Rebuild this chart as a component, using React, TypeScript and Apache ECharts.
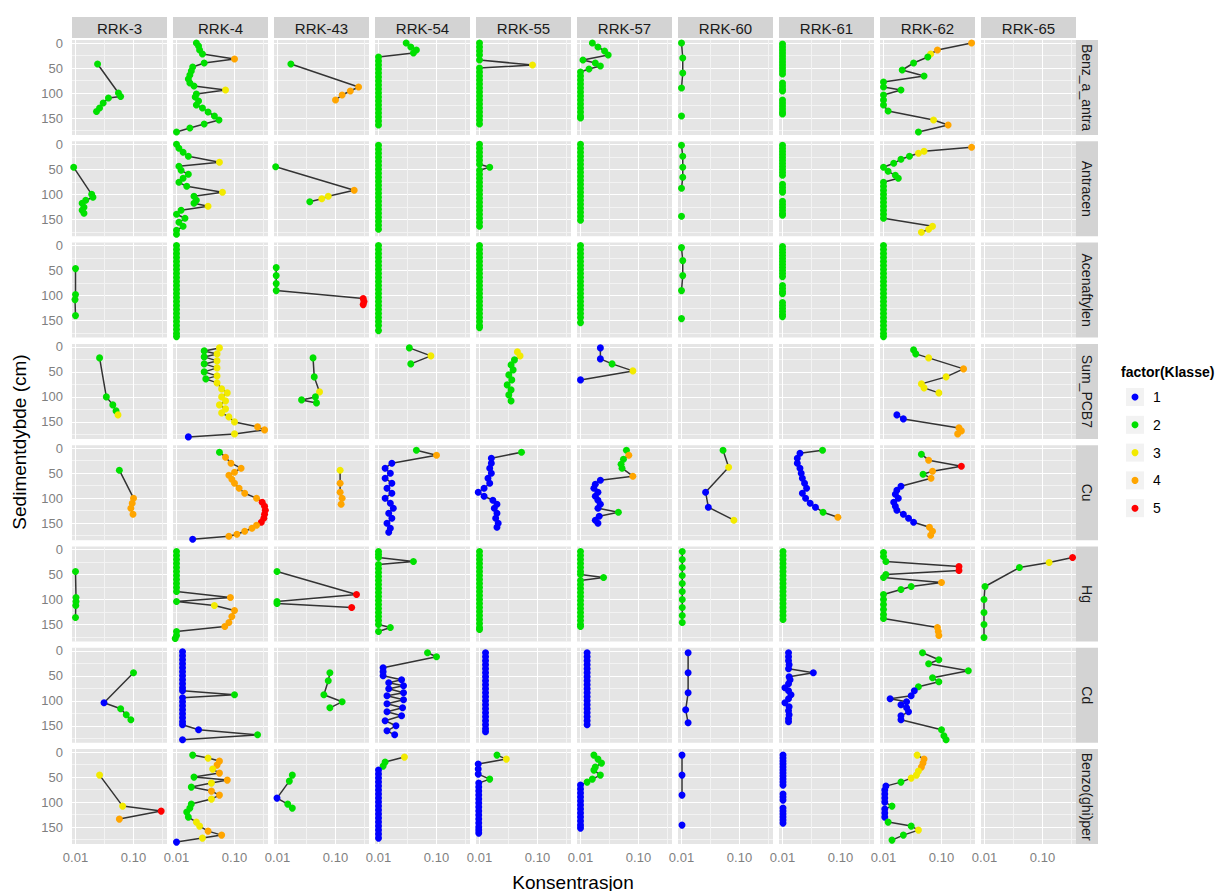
import React, { useEffect, useRef } from 'react';
import * as echarts from 'echarts';

type Pt = [number, number, number] | null; // [depth cm, concentration, class]

const stations = ['RRK-3', 'RRK-4', 'RRK-43', 'RRK-54', 'RRK-55', 'RRK-57', 'RRK-60', 'RRK-61', 'RRK-62', 'RRK-65'];
const variables = ['Benz_a_antracen', 'Antracen', 'Acenaftylen', 'Sum_PCB7', 'Cu', 'Hg', 'Cd', 'Benzo(ghi)perylen'];
const classLabels = ['1', '2', '3', '4', '5'];
const classColors = ['#0000FF', '#00E000', '#F2EA00', '#FFA500', '#FF0000'];
const xLabelValues = [0.01, 0.1];
const xLabelTexts = ['0.01', '0.10'];
const xGridValues = [0.01, 0.0316, 0.1, 0.316];
const yLabelValues = [0, 50, 100, 150];
const yGridValues = [0, 25, 50, 75, 100, 125, 150, 175];
const xTitle = 'Konsentrasjon';
const yTitle = 'Sedimentdybde (cm)';
const legendTitle = 'factor(Klasse)';

// ---- Benz_a_antracen
const baa_3: Pt[] = [[42,0.024,2],[100,0.055,2],[107,0.06,2],[110,0.037,2],[120,0.03,2],[130,0.026,2],[137,0.023,2]];
const baa_4: Pt[] = [[0,0.022,2],[6,0.024,2],[14,0.025,2],[22,0.028,2],[32,0.1,4],[40,0.03,2],[48,0.019,2],[56,0.018,2],[64,0.017,2],[72,0.016,2],[80,0.017,2],[86,0.02,2],[94,0.07,3],[102,0.022,2],[108,0.021,2],[116,0.024,2],[124,0.022,2],[130,0.028,2],[138,0.035,2],[146,0.045,2],[154,0.054,2],[162,0.03,2],[170,0.017,2],[178,0.01,2]];
const baa_43: Pt[] = [[42,0.017,2],[88,0.25,4],[96,0.18,4],[104,0.13,4],[114,0.1,4]];
const baa_54: Pt[] = [[0,0.03,2],[8,0.036,2],[14,0.045,2],[20,0.04,2],[28,0.01,2],[36,0.01,2],[44,0.01,2],[52,0.01,2],[60,0.01,2],[68,0.01,2],[76,0.01,2],[84,0.01,2],[92,0.01,2],[100,0.01,2],[108,0.01,2],[116,0.01,2],[124,0.01,2],[132,0.01,2],[140,0.01,2],[148,0.01,2],[156,0.01,2],[164,0.01,2]];
const baa_55: Pt[] = [[0,0.01,2],[8,0.01,2],[16,0.01,2],[24,0.01,2],[34,0.01,2],[44,0.082,3],[50,0.01,2],[58,0.01,2],[66,0.01,2],[74,0.01,2],[82,0.01,2],[90,0.01,2],[98,0.01,2],[106,0.01,2],[114,0.01,2],[122,0.01,2],[130,0.01,2],[138,0.01,2],[146,0.01,2],[154,0.01,2],[162,0.01,2]];
const baa_57: Pt[] = [[0,0.016,2],[8,0.02,2],[16,0.026,2],[24,0.03,2],[34,0.011,2],[40,0.018,2],[46,0.022,2],[52,0.014,2],[58,0.01,2],[66,0.01,2],[74,0.01,2],[82,0.01,2],[90,0.01,2],[98,0.01,2],[106,0.01,2],[114,0.01,2],[122,0.01,2],[130,0.01,2],[138,0.01,2],[146,0.01,2],[150,0.01,2]];
const baa_60: Pt[] = [[0,0.01,2],[30,0.0105,2],[60,0.0105,2],[90,0.01,2],null,[146,0.01,2]];
const baa_61: Pt[] = [[2,0.01,2],[8,0.01,2],[14,0.01,2],[20,0.01,2],[26,0.01,2],[32,0.01,2],[38,0.01,2],[44,0.01,2],[50,0.01,2],[56,0.01,2],[62,0.01,2],null,[80,0.01,2],[86,0.01,2],[92,0.01,2],[96,0.01,2],null,[114,0.01,2],[120,0.01,2],[126,0.01,2],[132,0.01,2],[138,0.01,2],[142,0.01,2]];
const baa_62: Pt[] = [[0,0.33,4],[14,0.085,4],[22,0.065,3],[28,0.058,2],[40,0.033,2],[54,0.021,2],[66,0.05,2],[78,0.01,2],[88,0.01,2],[94,0.02,2],[104,0.01,2],[114,0.01,2],[124,0.01,2],[136,0.012,2],[154,0.073,3],[164,0.13,4],[178,0.04,2]];

// ---- Antracen
const ant_3: Pt[] = [[46,0.0093,2],[100,0.019,2],[106,0.02,2],[112,0.015,2],[118,0.013,2],[126,0.014,2],[132,0.013,2],[138,0.014,2]];
const ant_4: Pt[] = [[0,0.01,2],[8,0.011,2],[16,0.013,2],[24,0.016,2],[36,0.055,3],[44,0.011,2],[52,0.012,2],[60,0.016,2],[68,0.013,2],[76,0.011,2],[84,0.015,2],[96,0.062,3],[104,0.02,2],[112,0.022,2],[118,0.02,2],[124,0.035,3],[132,0.012,2],[140,0.01,2],[148,0.014,2],[156,0.011,2],[164,0.013,2],[172,0.01,2],[180,0.01,2]];
const ant_43: Pt[] = [[45,0.0093,2],[92,0.21,4],[104,0.075,3],[109,0.058,3],[115,0.036,2]];
const ant_54: Pt[] = [[2,0.01,2],[10,0.01,2],[18,0.01,2],[26,0.01,2],[34,0.01,2],[42,0.01,2],[50,0.01,2],[58,0.01,2],[66,0.01,2],[74,0.01,2],[82,0.01,2],[90,0.01,2],[98,0.01,2],[106,0.01,2],[114,0.01,2],[122,0.01,2],[130,0.01,2],[138,0.01,2],[146,0.01,2],[154,0.01,2],[162,0.01,2],[170,0.01,2]];
const ant_55: Pt[] = [[0,0.01,2],[8,0.01,2],[16,0.01,2],[24,0.01,2],[32,0.01,2],[40,0.01,2],[46,0.015,2],[52,0.01,2],[60,0.01,2],[68,0.01,2],[76,0.01,2],[84,0.01,2],[92,0.01,2],[100,0.01,2],[108,0.01,2],[116,0.01,2],[124,0.01,2],[132,0.01,2],[140,0.01,2],[148,0.01,2],[156,0.01,2],[164,0.01,2]];
const ant_57: Pt[] = [[0,0.01,2],[8,0.01,2],[16,0.01,2],[24,0.01,2],[32,0.01,2],[40,0.01,2],[48,0.01,2],[56,0.01,2],[64,0.01,2],[72,0.01,2],[80,0.01,2],[88,0.01,2],[96,0.01,2],[104,0.01,2],[112,0.01,2],[120,0.01,2],[128,0.01,2],[136,0.01,2],[144,0.01,2],[152,0.01,2]];
const ant_60: Pt[] = [[2,0.01,2],[24,0.0105,2],[46,0.0105,2],[66,0.0105,2],[88,0.01,2],null,[144,0.01,2]];
const ant_61: Pt[] = [[2,0.01,2],[8,0.01,2],[14,0.01,2],[20,0.01,2],[26,0.01,2],[32,0.01,2],[38,0.01,2],[44,0.01,2],[50,0.01,2],[56,0.01,2],[62,0.01,2],null,[80,0.01,2],[86,0.01,2],[92,0.01,2],[96,0.01,2],null,[114,0.01,2],[120,0.01,2],[126,0.01,2],[132,0.01,2],[138,0.01,2],[142,0.01,2]];
const ant_62: Pt[] = [[6,0.33,4],[14,0.05,3],[18,0.04,3],[24,0.028,2],[30,0.02,2],[38,0.015,2],[46,0.01,2],[54,0.012,2],[62,0.016,2],[68,0.018,2],[76,0.01,2],[84,0.01,2],[92,0.01,2],[100,0.01,2],[108,0.01,2],[116,0.01,2],[124,0.01,2],[132,0.01,2],[140,0.01,2],[148,0.01,2],[164,0.07,3],[170,0.06,3],[176,0.045,3]];

// ---- Acenaftylen
const ace_3: Pt[] = [[46,0.01,2],[98,0.01,2],[108,0.0098,2],[140,0.01,2]];
const ace_4: Pt[] = [[0,0.01,2],[8,0.01,2],[16,0.01,2],[24,0.01,2],[32,0.01,2],[40,0.01,2],[48,0.01,2],[56,0.01,2],[64,0.01,2],[72,0.01,2],[80,0.01,2],[88,0.01,2],[96,0.01,2],[104,0.01,2],[112,0.01,2],[120,0.01,2],[128,0.01,2],[136,0.01,2],[144,0.01,2],[152,0.01,2],[160,0.01,2],[168,0.01,2],[176,0.01,2],[182,0.01,2]];
const ace_43: Pt[] = [[44,0.0095,2],[60,0.0095,2],[76,0.0095,2],[90,0.0095,2],[106,0.3,5],[112,0.31,5],[118,0.3,5]];
const ace_54: Pt[] = [[0,0.01,2],[8,0.01,2],[16,0.01,2],[24,0.01,2],[32,0.01,2],[40,0.01,2],[48,0.01,2],[56,0.01,2],[64,0.01,2],[72,0.01,2],[80,0.01,2],[88,0.01,2],[96,0.01,2],[104,0.01,2],[112,0.01,2],[120,0.01,2],[128,0.01,2],[136,0.01,2],[144,0.01,2],[152,0.01,2],[160,0.01,2],[170,0.01,2]];
const ace_55: Pt[] = [[0,0.01,2],[8,0.01,2],[16,0.01,2],[24,0.01,2],[32,0.01,2],[40,0.01,2],[48,0.01,2],[56,0.01,2],[64,0.01,2],[72,0.01,2],[80,0.01,2],[88,0.01,2],[96,0.01,2],[104,0.01,2],[112,0.01,2],[120,0.01,2],[128,0.01,2],[136,0.01,2],[144,0.01,2],[152,0.01,2],[160,0.01,2],[164,0.01,2]];
const ace_57: Pt[] = [[0,0.01,2],[8,0.01,2],[16,0.01,2],[24,0.01,2],[32,0.01,2],[40,0.01,2],[48,0.01,2],[56,0.01,2],[64,0.01,2],[72,0.01,2],[80,0.01,2],[88,0.01,2],[96,0.01,2],[104,0.01,2],[112,0.01,2],[120,0.01,2],[128,0.01,2],[136,0.01,2],[144,0.01,2],[154,0.01,2]];
const ace_60: Pt[] = [[4,0.01,2],[30,0.0105,2],[60,0.0105,2],[90,0.01,2],null,[146,0.01,2]];
const ace_61: Pt[] = [[2,0.01,2],[8,0.01,2],[14,0.01,2],[20,0.01,2],[26,0.01,2],[32,0.01,2],[38,0.01,2],[44,0.01,2],[50,0.01,2],[56,0.01,2],[62,0.01,2],null,[80,0.01,2],[86,0.01,2],[92,0.01,2],[96,0.01,2],null,[114,0.01,2],[120,0.01,2],[126,0.01,2],[132,0.01,2],[138,0.01,2],[142,0.01,2]];
const ace_62: Pt[] = [[0,0.01,2],[8,0.01,2],[16,0.01,2],[24,0.01,2],[32,0.01,2],[40,0.01,2],[48,0.01,2],[56,0.01,2],[64,0.01,2],[72,0.01,2],[80,0.01,2],[88,0.01,2],[96,0.01,2],[104,0.01,2],[112,0.01,2],[120,0.01,2],[128,0.01,2],[136,0.01,2],[144,0.01,2],[152,0.01,2],[160,0.01,2],[168,0.01,2],[176,0.01,2],[182,0.01,2]];

// ---- Sum_PCB7
const pcb_3: Pt[] = [[22,0.026,2],[100,0.034,2],[116,0.044,2],[128,0.05,2],[136,0.054,3]];
const pcb_4: Pt[] = [[2,0.055,3],[8,0.03,2],[14,0.05,3],[20,0.03,2],[28,0.05,3],[34,0.03,2],[42,0.05,3],[50,0.03,2],[58,0.05,3],[64,0.032,2],[72,0.05,3],[84,0.06,3],[92,0.075,3],[100,0.06,3],[108,0.07,3],[116,0.055,3],[124,0.07,3],[132,0.06,3],[140,0.08,3],[150,0.1,3],[160,0.25,4],[166,0.33,4],[174,0.1,3],[180,0.016,1]];
const pcb_43: Pt[] = [[22,0.041,2],[60,0.043,2],[90,0.053,3],[100,0.045,2],[106,0.026,2],[112,0.047,2]];
const pcb_54: Pt[] = [[2,0.034,2],[18,0.08,3],[34,0.036,2]];
const pcb_55: Pt[] = [[10,0.045,3],[18,0.05,3],[26,0.04,2],[36,0.035,2],[46,0.038,2],[56,0.032,2],[66,0.036,2],[76,0.03,2],[86,0.035,2],[96,0.032,2],[108,0.035,2]];
const pcb_57: Pt[] = [[2,0.022,1],[24,0.022,1],[34,0.035,2],[48,0.08,3],[66,0.01,1]];
const pcb_62: Pt[] = [[6,0.033,2],[14,0.036,2],[22,0.06,3],[44,0.24,4],[60,0.12,3],[74,0.045,3],[82,0.05,3],[92,0.09,3],null,[136,0.017,1],[144,0.022,1],[162,0.2,4],[168,0.22,4],[174,0.19,4]];

// ---- Cu
const cu_3: Pt[] = [[44,0.057,2],[100,0.1,4],[110,0.095,4],[120,0.09,4],[132,0.098,4]];
const cu_4: Pt[] = [[8,0.055,2],[18,0.07,4],[30,0.087,4],[40,0.13,4],[48,0.1,4],[54,0.08,4],[62,0.09,4],[70,0.1,4],[80,0.12,4],[90,0.15,4],[100,0.24,4],[108,0.3,5],[116,0.33,5],[124,0.34,5],[132,0.33,5],[140,0.32,5],[148,0.29,5],[154,0.24,4],[160,0.2,4],[166,0.15,4],[172,0.11,4],[176,0.08,4],[182,0.019,1]];
const cu_43: Pt[] = [[44,0.12,3],[70,0.12,4],[88,0.12,4],[100,0.13,4],[112,0.125,4]];
const cu_54: Pt[] = [[4,0.045,2],[14,0.1,4],[30,0.017,1],[40,0.013,1],[50,0.016,1],[60,0.013,1],[70,0.017,1],[80,0.014,1],[90,0.017,1],[100,0.013,1],[110,0.016,1],[120,0.018,1],[130,0.015,1],[140,0.017,1],[150,0.014,1],[160,0.016,1],[168,0.015,1]];
const cu_55: Pt[] = [[8,0.053,2],[20,0.016,1],[30,0.016,1],[40,0.015,1],[50,0.016,1],[60,0.014,1],[70,0.015,1],[80,0.012,1],[88,0.0095,1],[96,0.012,1],[104,0.017,1],[112,0.02,1],[120,0.018,1],[130,0.02,1],[140,0.019,1],[150,0.021,1],[158,0.02,1]];
const cu_57: Pt[] = [[4,0.062,2],[14,0.068,4],[22,0.055,2],[32,0.05,2],[40,0.052,2],[56,0.08,4],[64,0.022,1],[72,0.018,1],[80,0.017,1],[88,0.02,1],[96,0.018,1],[104,0.02,1],[112,0.022,1],[120,0.02,1],[128,0.045,2],[136,0.021,1],[144,0.018,1],[150,0.02,1]];
const cu_60: Pt[] = [[4,0.052,2],[38,0.065,3],[88,0.026,1],[118,0.029,1],[144,0.08,3]];
const cu_61: Pt[] = [[4,0.049,2],[10,0.02,1],[20,0.018,1],[30,0.018,1],[40,0.02,1],[50,0.021,1],[60,0.022,1],[70,0.024,1],[80,0.026,1],[90,0.022,1],[100,0.025,1],[110,0.03,1],[118,0.037,1],[128,0.05,2],[138,0.09,4]];
const cu_62: Pt[] = [[12,0.045,2],[24,0.06,4],[36,0.22,5],[46,0.07,4],[52,0.048,2],[60,0.066,4],[76,0.02,1],[84,0.017,1],[92,0.016,1],[100,0.018,1],[108,0.015,1],[116,0.016,1],[124,0.017,1],[132,0.022,1],[140,0.027,1],[148,0.033,1],[158,0.062,4],[166,0.07,4],[174,0.065,4]];

// ---- Hg
const hg_3: Pt[] = [[44,0.01,2],[96,0.0102,2],[104,0.0102,2],[112,0.0101,2],[136,0.01,2]];
const hg_4: Pt[] = [[4,0.01,2],[12,0.01,2],[20,0.01,2],[28,0.01,2],[36,0.01,2],[44,0.01,2],[52,0.01,2],[60,0.01,2],[68,0.01,2],[76,0.01,2],[84,0.01,2],[96,0.085,4],[104,0.01,2],[112,0.045,3],[122,0.1,4],[134,0.09,4],[146,0.08,4],[154,0.068,4],[164,0.01,2],[172,0.01,2],[178,0.0095,2]];
const hg_43: Pt[] = [[44,0.0098,2],[90,0.23,5],[104,0.0098,2],[108,0.0098,2],[116,0.19,5]];
const hg_54: Pt[] = [[4,0.01,2],[10,0.01,2],[16,0.01,2],[24,0.04,2],[30,0.01,2],[38,0.01,2],[46,0.01,2],[54,0.01,2],[62,0.01,2],[70,0.01,2],[78,0.01,2],[86,0.01,2],[94,0.01,2],[102,0.01,2],[110,0.01,2],[118,0.01,2],[126,0.01,2],[134,0.01,2],[142,0.01,2],[150,0.01,2],[156,0.016,2],[164,0.01,2]];
const hg_55: Pt[] = [[4,0.01,2],[12,0.01,2],[20,0.01,2],[28,0.01,2],[36,0.01,2],[44,0.01,2],[52,0.01,2],[60,0.01,2],[68,0.01,2],[76,0.01,2],[84,0.01,2],[92,0.01,2],[100,0.01,2],[108,0.01,2],[116,0.01,2],[124,0.01,2],[132,0.01,2],[140,0.01,2],[148,0.01,2],[156,0.01,2],[160,0.01,2]];
const hg_57: Pt[] = [[4,0.01,2],[12,0.01,2],[20,0.01,2],[28,0.01,2],[36,0.01,2],[44,0.01,2],[50,0.01,2],[56,0.025,2],[62,0.01,2],[70,0.01,2],[78,0.01,2],[86,0.01,2],[94,0.01,2],[102,0.01,2],[110,0.01,2],[118,0.01,2],[126,0.01,2],[134,0.01,2],[142,0.01,2],[150,0.01,2],[154,0.01,2]];
const hg_60: Pt[] = [[4,0.0103,2],[20,0.0103,2],[36,0.0103,2],[52,0.0103,2],[68,0.0103,2],[84,0.0103,2],[100,0.0103,2],[116,0.0103,2],[132,0.0103,2],[146,0.0103,2]];
const hg_61: Pt[] = [[4,0.0102,2],[12,0.0102,2],[20,0.0102,2],[28,0.0102,2],[36,0.0102,2],[44,0.0102,2],[52,0.0102,2],[60,0.0102,2],[68,0.0102,2],[76,0.0102,2],[84,0.0102,2],[92,0.0102,2],[100,0.0102,2],[108,0.0102,2],[116,0.0102,2],[124,0.0102,2],[132,0.0102,2],[140,0.0102,2]];
const hg_62: Pt[] = [[6,0.01,2],[14,0.01,2],[24,0.011,2],[34,0.2,5],[42,0.2,5],[50,0.011,2],[56,0.01,2],[66,0.1,4],[74,0.03,2],[80,0.02,2],[90,0.01,2],[100,0.01,2],[110,0.01,2],[120,0.01,2],[130,0.01,2],[138,0.01,2],[156,0.085,4],[164,0.088,4],[172,0.09,4]];
const hg_65: Pt[] = [[16,0.33,5],[26,0.13,3],[36,0.04,2],[74,0.0102,2],[100,0.0098,2],[126,0.0098,2],[150,0.0098,2],[176,0.0098,2]];

// ---- Cd
const cd_3: Pt[] = [[44,0.1,2],[104,0.031,1],[116,0.06,2],[128,0.075,2],[138,0.09,2]];
const cd_4: Pt[] = [[2,0.0127,1],[10,0.0127,1],[18,0.0127,1],[26,0.0127,1],[34,0.0127,1],[42,0.0127,1],[50,0.0127,1],[58,0.0127,1],[66,0.0127,1],[74,0.0127,1],[80,0.0127,1],[88,0.1,2],[94,0.0127,1],[102,0.0127,1],[110,0.0127,1],[118,0.0127,1],[126,0.0127,1],[134,0.0127,1],[142,0.0127,1],[148,0.0127,1],[158,0.024,1],[168,0.25,2],[178,0.0127,1]];
const cd_43: Pt[] = [[44,0.08,2],[60,0.075,2],[88,0.063,2],[102,0.13,2],[114,0.08,2]];
const cd_54: Pt[] = [[4,0.07,2],[12,0.1,2],[34,0.012,1],[42,0.012,1],[50,0.012,1],[58,0.025,1],[64,0.015,1],[70,0.027,1],[76,0.015,1],[84,0.027,1],[90,0.014,1],[98,0.027,1],[106,0.014,1],[114,0.026,1],[122,0.014,1],[130,0.025,1],[140,0.013,1],[150,0.02,1],[160,0.014,1],[168,0.019,1]];
const cd_55: Pt[] = [[4,0.0127,1],[12,0.0127,1],[20,0.0127,1],[28,0.0127,1],[36,0.0127,1],[44,0.0127,1],[52,0.0127,1],[60,0.0127,1],[68,0.0127,1],[76,0.0127,1],[84,0.0127,1],[92,0.0127,1],[100,0.0127,1],[108,0.0127,1],[116,0.0127,1],[124,0.0127,1],[132,0.0127,1],[140,0.0127,1],[148,0.0127,1],[156,0.0127,1],[162,0.0127,1]];
const cd_57: Pt[] = [[4,0.013,1],[12,0.013,1],[20,0.013,1],[28,0.013,1],[36,0.013,1],[44,0.013,1],[52,0.013,1],[60,0.013,1],[68,0.013,1],[76,0.013,1],[84,0.013,1],[92,0.013,1],[100,0.013,1],[108,0.013,1],[116,0.013,1],[124,0.013,1],[132,0.013,1],[140,0.013,1],[148,0.013,1]];
const cd_60: Pt[] = [[4,0.013,1],[44,0.013,1],[84,0.013,1],[118,0.0118,1],[144,0.013,1]];
const cd_61: Pt[] = [[4,0.0127,1],[12,0.0127,1],[20,0.0127,1],[28,0.013,1],[36,0.0127,1],[44,0.034,1],[52,0.013,1],[58,0.0135,1],[66,0.0127,1],[74,0.011,1],[80,0.0127,1],[88,0.014,1],[96,0.0127,1],[104,0.011,1],[112,0.013,1],[120,0.0127,1],[128,0.013,1],[136,0.0127,1],[142,0.0127,1]];
const cd_62: Pt[] = [[4,0.047,2],[18,0.09,2],[26,0.06,2],[40,0.29,2],[54,0.07,2],[62,0.09,2],[72,0.04,2],[80,0.034,1],[90,0.03,1],[96,0.013,1],[102,0.025,1],[108,0.02,1],[114,0.025,1],[122,0.027,1],[130,0.02,1],[138,0.02,1],[158,0.1,2],[170,0.11,2],[178,0.12,2]];

// ---- Benzo(ghi)perylen
const bgp_3: Pt[] = [[46,0.026,3],[108,0.065,3],[118,0.3,5],[134,0.057,4]];
const bgp_4: Pt[] = [[6,0.019,2],[12,0.035,3],[18,0.055,4],[26,0.05,4],[34,0.042,3],[42,0.055,4],[50,0.02,2],[56,0.075,4],[62,0.04,3],[70,0.018,2],[78,0.04,4],[86,0.055,4],[94,0.04,3],[104,0.018,2],[112,0.017,2],[120,0.015,2],[130,0.016,2],[140,0.022,3],[148,0.025,3],[158,0.035,4],[166,0.06,4],[172,0.028,3],[180,0.01,1]];
const bgp_43: Pt[] = [[46,0.018,2],[58,0.016,2],[92,0.0098,1],[104,0.015,2],[112,0.018,2]];
const bgp_54: Pt[] = [[10,0.028,3],[20,0.013,2],[28,0.012,2],[36,0.01,1],[44,0.01,1],[52,0.01,1],[60,0.01,1],[68,0.01,1],[76,0.01,1],[84,0.01,1],[92,0.01,1],[100,0.01,1],[108,0.01,1],[116,0.01,1],[124,0.01,1],[132,0.01,1],[140,0.01,1],[148,0.01,1],[156,0.01,1],[164,0.01,1],[172,0.01,1]];
const bgp_55: Pt[] = [[6,0.02,2],[14,0.029,3],[24,0.0095,1],[34,0.0095,1],[44,0.0095,1],[54,0.015,2],[62,0.0097,1],[70,0.0097,1],[78,0.0097,1],[86,0.0097,1],[94,0.0097,1],[102,0.0097,1],[110,0.0097,1],[118,0.0097,1],[126,0.0097,1],[134,0.0097,1],[142,0.0097,1],[150,0.0097,1],[156,0.0097,1],[162,0.0097,1]];
const bgp_57: Pt[] = [[6,0.017,2],[14,0.02,2],[22,0.023,2],[30,0.018,2],[36,0.017,2],[46,0.022,2],[54,0.016,2],[60,0.013,2],[66,0.01,1],[74,0.01,1],[82,0.01,1],[90,0.01,1],[98,0.01,1],[106,0.01,1],[114,0.01,1],[122,0.01,1],[130,0.01,1],[138,0.01,1],[146,0.01,1],[152,0.01,1]];
const bgp_60: Pt[] = [[6,0.0102,1],[46,0.0102,1],[86,0.0102,1],null,[146,0.0102,1]];
const bgp_61: Pt[] = [[6,0.0102,1],[12,0.0102,1],[18,0.0102,1],[24,0.0102,1],[30,0.0102,1],[36,0.0102,1],[42,0.0102,1],[48,0.0102,1],[54,0.0102,1],[60,0.0102,1],[66,0.0102,1],null,[84,0.0102,1],[90,0.0102,1],[96,0.0102,1],null,[112,0.0102,1],[118,0.0102,1],[124,0.0102,1],[130,0.0102,1],[136,0.0102,1],[142,0.0102,1]];
const bgp_62: Pt[] = [[6,0.038,3],[14,0.05,4],[22,0.048,4],[30,0.045,4],[38,0.04,3],[46,0.037,3],[52,0.03,3],[60,0.02,2],[68,0.011,1],[76,0.0105,1],[84,0.0105,1],[92,0.0105,1],[100,0.0105,1],[108,0.014,2],[114,0.0105,1],[122,0.0105,1],[130,0.0105,1],[140,0.012,2],[148,0.03,2],[156,0.04,3],[166,0.022,2],[176,0.014,2]];

const panelRows: (Pt[] | null)[][] = [
  [baa_3, baa_4, baa_43, baa_54, baa_55, baa_57, baa_60, baa_61, baa_62, null],
  [ant_3, ant_4, ant_43, ant_54, ant_55, ant_57, ant_60, ant_61, ant_62, null],
  [ace_3, ace_4, ace_43, ace_54, ace_55, ace_57, ace_60, ace_61, ace_62, null],
  [pcb_3, pcb_4, pcb_43, pcb_54, pcb_55, pcb_57, null, null, pcb_62, null],
  [cu_3, cu_4, cu_43, cu_54, cu_55, cu_57, cu_60, cu_61, cu_62, null],
  [hg_3, hg_4, hg_43, hg_54, hg_55, hg_57, hg_60, hg_61, hg_62, hg_65],
  [cd_3, cd_4, cd_43, cd_54, cd_55, cd_57, cd_60, cd_61, cd_62, null],
  [bgp_3, bgp_4, bgp_43, bgp_54, bgp_55, bgp_57, bgp_60, bgp_61, bgp_62, null],
];

const FONT = '"Liberation Sans", Arial, Helvetica, sans-serif';

function buildOption() {
  const PL = 72, PX = 101, PW = 95, PT = 40, PY = 101.3, PH = 95;
  const grid: any[] = [], xAxis: any[] = [], yAxis: any[] = [], series: any[] = [], graphic: any[] = [];
  for (let r = 0; r < variables.length; r++) {
    for (let c = 0; c < stations.length; c++) {
      const idx = r * stations.length + c;
      const left = PL + c * PX;
      const top = PT + r * PY;
      grid.push({ left, top, width: PW, height: PH, show: true, backgroundColor: '#E5E5E5', borderWidth: 0 });
      xAxis.push({
        type: 'log', logBase: 10, gridIndex: idx, min: 0.0087, max: 0.378,
        axisLine: { show: false },
        axisTick: { show: false, customValues: xGridValues },
        axisLabel: {
          show: r === variables.length - 1, customValues: xLabelValues,
          formatter: (v: number) => (v < 0.05 ? xLabelTexts[0] : xLabelTexts[1]),
          color: '#7F7F7F', fontSize: 13, margin: 7, fontFamily: FONT,
        },
        splitLine: { show: true, lineStyle: { color: ['#FFFFFF', '#F3F3F3'], width: 1 } },
      });
      yAxis.push({
        type: 'value', gridIndex: idx, inverse: true, min: -6, max: 184,
        axisLine: { show: false },
        axisTick: { show: false, customValues: yGridValues },
        axisLabel: {
          show: c === 0, customValues: yLabelValues, color: '#7F7F7F', fontSize: 13, margin: 9, fontFamily: FONT,
        },
        splitLine: { show: true, lineStyle: { color: ['#FFFFFF', '#F3F3F3'], width: 1 } },
      });
      const pts = panelRows[r][c];
      if (pts) {
        const segs: Pt[][] = [];
        let cur: Pt[] = [];
        pts.forEach((p) => {
          if (p === null) { if (cur.length) segs.push(cur); cur = []; } else cur.push(p);
        });
        if (cur.length) segs.push(cur);
        segs.forEach((seg) => {
          series.push({
            type: 'line', xAxisIndex: idx, yAxisIndex: idx, silent: true,
            symbol: 'circle', symbolSize: 7, showSymbol: true,
            lineStyle: { color: '#333333', width: 1.5 },
            itemStyle: { borderWidth: 0 },
            emphasis: { disabled: true },
            data: seg.map((p) => ({ value: [p![1], p![0]], itemStyle: { color: classColors[p![2] - 1] } })),
          });
        });
      }
    }
  }
  // column strips
  stations.forEach((s, c) => {
    const left = PL + c * PX;
    graphic.push({ type: 'rect', shape: { x: left, y: 17, width: PW, height: 21 }, style: { fill: '#D3D3D3' }, silent: true });
    graphic.push({
      type: 'text', x: left + PW / 2, y: 28, silent: true,
      style: { text: s, fill: '#1A1A1A', fontSize: 15, fontFamily: FONT, align: 'center', verticalAlign: 'middle', textAlign: 'center', textVerticalAlign: 'middle' },
    });
  });
  // row strips
  variables.forEach((v, r) => {
    const top = PT + r * PY;
    graphic.push({ type: 'rect', shape: { x: 1076, y: top, width: 22, height: PH }, style: { fill: '#D3D3D3' }, silent: true });
    graphic.push({
      type: 'text', x: 1087, y: top + PH / 2, rotation: -Math.PI / 2, silent: true,
      style: {
        text: v, fill: '#1A1A1A', fontSize: 14, fontFamily: FONT, align: 'center', verticalAlign: 'middle',
        textAlign: 'center', textVerticalAlign: 'middle', width: PH - 2, overflow: 'truncate', ellipsis: '',
      },
    });
  });
  // axis titles
  graphic.push({
    type: 'text', x: 573, y: 882, silent: true,
    style: { text: xTitle, fill: '#000', fontSize: 19, fontFamily: FONT, align: 'center', verticalAlign: 'middle', textAlign: 'center', textVerticalAlign: 'middle' },
  });
  graphic.push({
    type: 'text', x: 19, y: 442, rotation: Math.PI / 2, silent: true,
    style: { text: yTitle, fill: '#000', fontSize: 19, fontFamily: FONT, align: 'center', verticalAlign: 'middle', textAlign: 'center', textVerticalAlign: 'middle' },
  });
  // legend
  graphic.push({
    type: 'text', x: 1121, y: 372, silent: true,
    style: { text: legendTitle, fill: '#000', fontSize: 14, fontWeight: 'bold', fontFamily: FONT, align: 'left', verticalAlign: 'middle', textAlign: 'left', textVerticalAlign: 'middle' },
  });
  classLabels.forEach((lab, i) => {
    const y = 397 + i * 27.8;
    graphic.push({ type: 'rect', shape: { x: 1126, y: y - 9, width: 18, height: 18 }, style: { fill: '#F2F2F2' }, silent: true });
    graphic.push({ type: 'circle', shape: { cx: 1135, cy: y, r: 3.5 }, style: { fill: classColors[i] }, silent: true });
    graphic.push({
      type: 'text', x: 1153, y, silent: true,
      style: { text: lab, fill: '#000', fontSize: 14, fontFamily: FONT, align: 'left', verticalAlign: 'middle', textAlign: 'left', textVerticalAlign: 'middle' },
    });
  });

  return { animation: false, backgroundColor: '#FFFFFF', grid, xAxis, yAxis, series, graphic };
}

export default function App() {
  const ref = useRef<HTMLDivElement>(null);
  useEffect(() => {
    document.body.style.margin = '0';
    const chart = echarts.init(ref.current!, null, { renderer: 'svg' });
    chart.setOption(buildOption() as any);
    return () => chart.dispose();
  }, []);
  return <div ref={ref} style={{ width: 1224, height: 891 }} />;
}
